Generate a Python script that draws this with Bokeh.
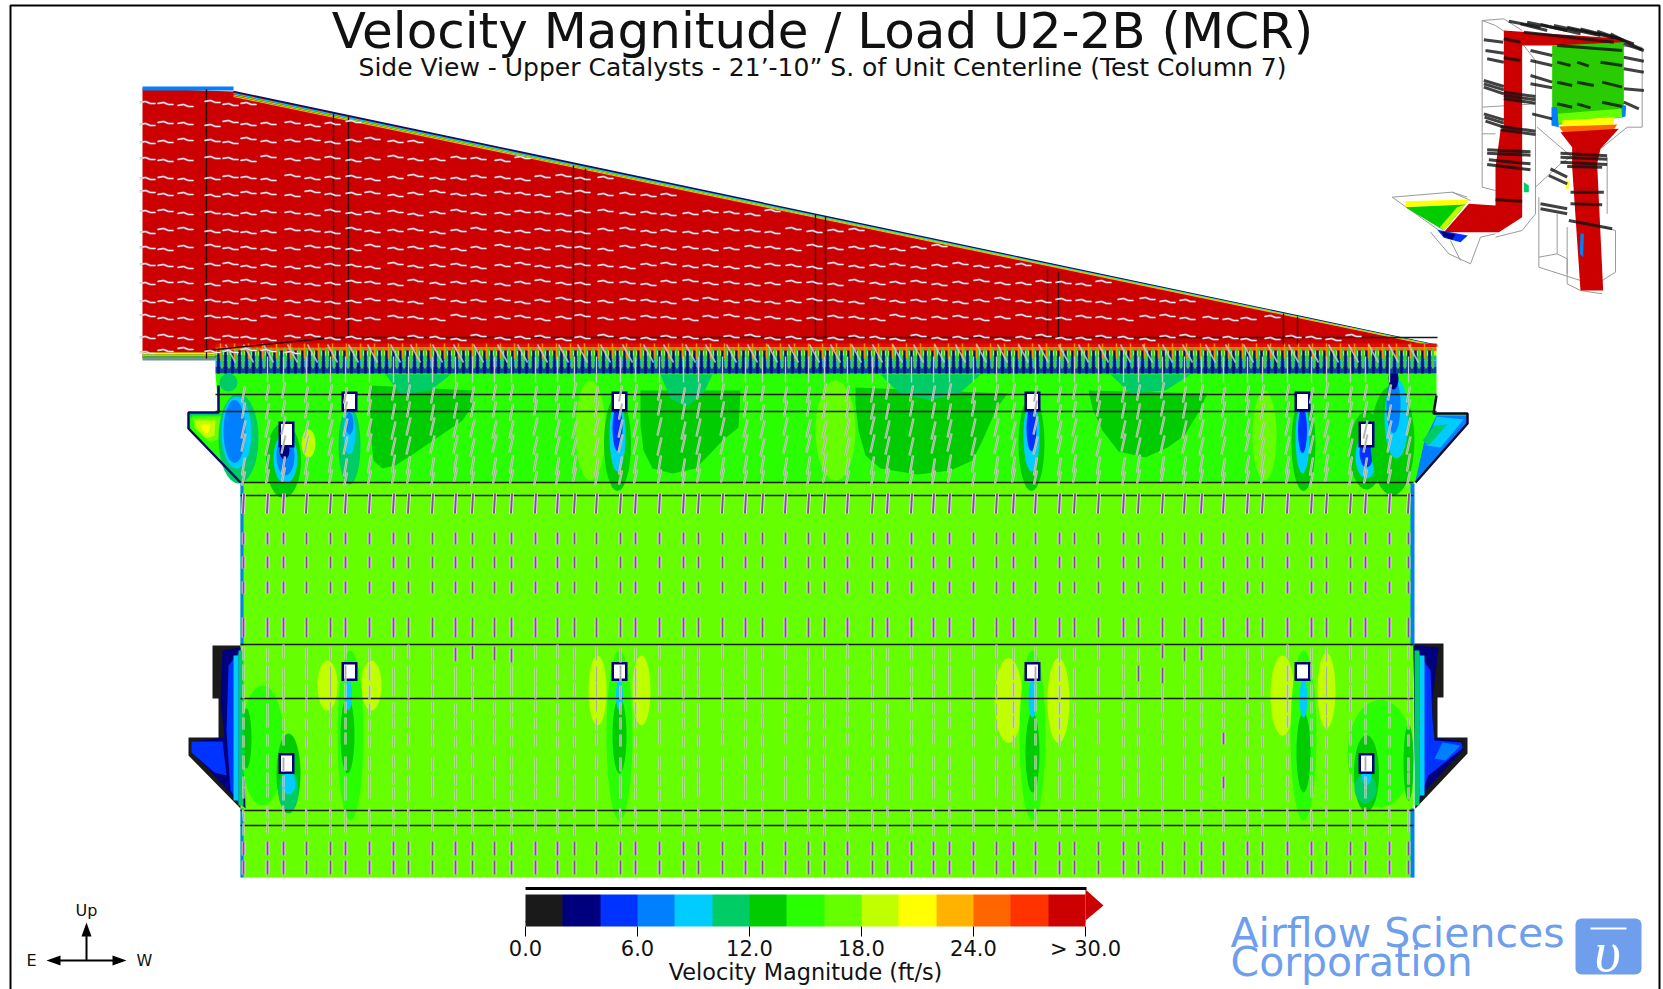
from bokeh.embed import file_html
from bokeh.resources import INLINE
from bokeh.plotting import figure
from bokeh.models import Range1d, ColorBar, LinearColorMapper, FixedTicker, NumeralTickFormatter
from bokeh.core.properties import value

# ---------- text ----------
TITLE = "Velocity Magnitude / Load U2-2B (MCR)"
SUBTITLE = "Side View - Upper Catalysts - 21\u2019-10\u201d S. of Unit Centerline (Test Column 7)"
CB_TITLE = "Velocity Magnitude (ft/s)"

# ---------- velocity levels (ft/s, every 2) ----------
level_colors = ["#1a1a1a", "#00007f", "#0033ff", "#007fff", "#00ccff", "#00cc66", "#00cc00",
                "#29ff00", "#66ff00", "#bfff00", "#ffff00", "#ffb300", "#ff6600", "#ff3300", "#cc0000"]
cb_ticks = [0, 6, 12, 18, 24, 30]

# ---------- duct outlines ----------
duct_x = [142, 233, 1437, 1437, 347, 215, 142]
duct_y = [88, 91, 345, 345, 345, 358, 358]
upper_x = [215, 1436, 1436, 1433, 1467, 1467, 1415, 240, 188, 188, 218]
upper_y = [373, 373, 400, 413, 413, 423, 482, 482, 428, 412, 412]
mid_x = [240, 1413, 1413, 240]
mid_y = [482, 482, 877, 877]
lbulge_x = [240, 212, 212, 218, 218, 188, 188, 240]
lbulge_y = [645, 645, 698, 698, 737, 737, 755, 808]
rbulge_x = [1413, 1443, 1443, 1437, 1437, 1467, 1467, 1415]
rbulge_y = [643, 643, 697, 697, 737, 737, 753, 808]

# (level, xs, ys) contour regions
regions = [
    # upper bulges
    (5, [188, 222, 224, 240], [413, 413, 450, 482]),
    (7, [192, 222, 224, 234, 190], [415, 415, 450, 475, 428]),
    (8, [192, 220, 220, 210, 194], [417, 417, 438, 442, 428]),
    (9, [194, 215, 214, 206, 196], [420, 420, 435, 438, 428]),
    (10, [200, 210, 208, 204], [424, 424, 432, 433]),
    (3, [1436, 1467, 1467, 1415, 1424], [415, 415, 423, 480, 440]),
    (4, [1436, 1463, 1440, 1426], [416, 419, 447, 445]),
    (5, [1434, 1447, 1428, 1422], [425, 424, 445, 440]),
    # large slow zones below the catalyst inlet
    (6, [370, 473, 472, 462, 440, 415, 395, 382, 373, 370],
     [385, 390, 405, 420, 435, 452, 465, 468, 460, 430]),
    (6, [640, 740, 738, 722, 708, 695, 672, 652, 643, 640],
     [390, 390, 427, 440, 455, 468, 473, 468, 450, 425]),
    (6, [855, 1007, 996, 982, 972, 950, 917, 880, 865, 858, 855],
     [387, 393, 408, 440, 460, 470, 474, 468, 455, 430, 403]),
    (6, [1088, 1207, 1198, 1184, 1167, 1145, 1118, 1102, 1092],
     [390, 393, 412, 435, 447, 457, 451, 430, 408]),
    (5, [660, 712, 702, 685, 670], [374, 374, 395, 406, 398]),
    (5, [880, 980, 960, 930, 898], [374, 374, 392, 400, 392]),
    (5, [385, 450, 430, 400], [374, 374, 390, 394]),
    (5, [1110, 1190, 1165, 1130], [374, 374, 390, 393]),
    # lower bulges: wall wake
    (1, [240, 222, 220, 224, 193, 193, 232, 245], [647, 650, 700, 737, 741, 753, 795, 808]),
    (2, [191, 222, 226, 214, 191], [741, 741, 775, 772, 752]),
    (2, [240, 228, 226, 230, 240], [650, 665, 730, 790, 805]),
    (1, [1413, 1438, 1432, 1432, 1462, 1462, 1425, 1415], [645, 647, 700, 737, 741, 750, 790, 808]),
    (2, [1416, 1430, 1432, 1434, 1461, 1462, 1428, 1416], [650, 670, 720, 740, 742, 748, 775, 805]),
    (3, [1442, 1460, 1445, 1434], [742, 745, 760, 758]),
]

# wakes and pockets: centre x, centre y, width, height, level (drawn in this order)
pockets = [
    # upper row
    (590, 430, 30, 100, 8), (835, 430, 40, 100, 8), (1264, 435, 24, 90, 8), (228, 382, 18, 18, 5),
    (238, 438, 40, 90, 5), (236, 432, 30, 72, 4), (234, 431, 22, 63, 3),
    (308, 443, 14, 28, 9),
    (283, 460, 35, 75, 6), (285, 458, 24, 50, 4), (285, 455, 18, 40, 3), (284, 450, 10, 18, 1),
    (349, 445, 22, 78, 5), (349, 432, 12, 44, 4), (349, 423, 8, 22, 3),
    (617, 443, 27, 95, 6), (617, 435, 16, 72, 4), (617, 428, 10, 45, 2),
    (1031, 443, 26, 95, 6), (1031, 435, 16, 72, 4), (1031, 428, 10, 45, 2),
    (1303, 443, 24, 95, 6), (1302, 437, 14, 72, 4), (1302, 430, 9, 45, 2),
    (1366, 450, 34, 78, 6), (1366, 456, 22, 44, 4), (1366, 452, 14, 30, 2),
    (1392, 440, 44, 110, 6), (1396, 418, 24, 80, 4), (1393, 405, 14, 55, 3), (1393, 378, 10, 22, 1),
    # lower row
    (327, 685, 20, 50, 9), (371, 685, 20, 50, 9),
    (597, 690, 18, 70, 9), (641, 690, 18, 70, 9),
    (1008, 700, 28, 85, 9), (1058, 700, 22, 85, 9),
    (1282, 695, 24, 80, 9), (1326, 690, 18, 75, 9),
    (350, 735, 26, 170, 7), (347, 735, 14, 76, 6), (348, 695, 7, 30, 4),
    (619, 735, 26, 170, 7), (619, 735, 14, 76, 6), (619, 695, 7, 30, 4),
    (1032, 735, 26, 170, 7), (1032, 752, 14, 80, 6), (1032, 698, 8, 38, 4),
    (1303, 735, 26, 170, 7), (1303, 752, 14, 80, 6), (1303, 698, 8, 38, 4),
    (262, 745, 44, 120, 7), (246, 738, 10, 60, 6),
    (288, 773, 24, 80, 6), (288, 790, 20, 44, 5), (288, 783, 14, 22, 4),
    (1380, 753, 66, 107, 7), (1408, 762, 10, 77, 6),
    (1366, 773, 25, 77, 6), (1365, 788, 22, 30, 5), (1366, 772, 10, 26, 4),
]
wall_bands = [  # left x, right x, top y, bottom y, level
    (240, 243, 483, 645, 3), (240, 243, 808, 877, 3),
    (1410, 1414, 483, 645, 3), (1410, 1414, 808, 877, 3),
    (233, 238, 655, 800, 4), (238, 243, 650, 805, 5),
    (1414, 1419, 650, 805, 5), (1419, 1424, 655, 795, 4),
]

# tubes: x, y, width, height
tubes = [(349, 401, 11, 15), (619, 401, 11, 15), (1032, 401, 11, 15), (1302, 401, 11, 15),
         (286, 434, 11, 21), (1366, 434, 11, 21),
         (349, 671, 11, 14), (619, 671, 11, 14), (1032, 671, 11, 14), (1302, 671, 11, 14),
         (286, 763, 11, 16), (1366, 763, 11, 16)]

# structural lines
h_lines = [(215, 1436, 394), (215, 1436, 411), (240, 1413, 482), (240, 1413, 495),
           (240, 1413, 644), (240, 1413, 698), (240, 1413, 810), (240, 1413, 825),
           (348, 1437, 337)]
v_lines = [(206, 89, 358), (333, 113, 337), (348, 116, 337), (573, 165, 337), (585, 168, 337),
           (815, 214, 337), (825, 216, 337), (1047, 268, 337), (1058, 271, 337),
           (1283, 313, 344), (1297, 316, 344)]

# ---------- velocity vectors ----------
duct_rows = [103, 123, 140, 158, 177, 193, 212, 230, 247, 265, 282, 300, 317, 337, 350]
duct_cols = [147, 165, 185, 212, 230, 248, 268, 292, 312, 332, 353, 372, 395, 415, 437, 458, 478, 502,
             522, 542, 563, 582, 605, 627, 648, 668, 690, 710, 731, 752, 772, 793, 814, 835, 856, 877,
             897, 918, 939, 960, 981, 1002, 1023, 1043, 1063, 1083, 1103, 1125, 1147, 1167, 1187, 1210,
             1230, 1248, 1272, 1293, 1313, 1333, 1353, 1373, 1393, 1413]
duct_jitter = [1, -1, 0, 2, -2, 1, 0, -1, 2, 0, -2, 1, 1, -1, 0, 2, -1, -2, 1, 0, 2]
body_cols = [243, 267, 283, 306, 330, 345, 369, 393, 408, 432, 455, 472, 494, 511, 535, 557, 574, 596,
             620, 635, 659, 683, 698, 722, 745, 762, 785, 808, 824, 847, 872, 887, 911, 933, 949, 973,
             996, 1013, 1035, 1059, 1074, 1098, 1123, 1138, 1162, 1184, 1201, 1223, 1247, 1262, 1287,
             1311, 1326, 1350, 1365, 1389, 1408]
# y, half length, tilt, purple?
body_rows = [(393, 8, -3, 0), (410, 8, -3, 0), (428, 9, -4, 0), (445, 9, -4, 0), (465, 9, -3, 0),
             (477, 7, -3, 0), (503, 10, -1, 1), (538, 6, 0, 1), (562, 6, 0, 1), (587, 6, 0, 1),
             (627, 10, 0, 1), (653, 7, 0, 0), (673, 8, 0, 0), (690, 7, 0, 0), (707, 6, 0, 0),
             (723, 6, 0, 0), (740, 6, 0, 0), (762, 7, 0, 0), (780, 6, 0, 0), (793, 6, 0, 0),
             (813, 6, 1, 0), (827, 6, 0, 0), (848, 7, 0, 1), (867, 7, 0, 1)]
purple_spots = [(455, 653), (472, 653), (494, 653), (511, 653), (468, 673), (450, 690), (1162, 653),
                (1184, 653), (1201, 653), (1138, 673), (1162, 673), (1223, 740), (1223, 780)]

# ---------- colour bar & compass & logo ----------
arrow_tip = (1085, 889, 1103, 905, 1085, 920)
LOGO_BLUE = "#6f9fec"

# ---------- inset, in the zoomed inset's coordinates ----------
inset_wires = [
    [(305, 60), (370, 55), (425, 90)], [(305, 60), (305, 560)], [(305, 60), (345, 75), (370, 92)],
    [(430, 135), (465, 180), (465, 640), (425, 690), (345, 710)], [(305, 320), (465, 310)],
    [(305, 400), (345, 400)], [(305, 560), (345, 570)],
    [(35, 590), (215, 575), (270, 600)], [(35, 590), (190, 700)], [(150, 695), (205, 760), (270, 790), (300, 710)],
    [(210, 720), (240, 780)], [(215, 575), (260, 590)],
    [(515, 130), (785, 140), (785, 380), (740, 380), (660, 445)], [(470, 380), (540, 440), (575, 470)],
    [(475, 590), (475, 800), (600, 840)], [(475, 770), (530, 760), (560, 775), (560, 820)],
    [(560, 680), (560, 850), (600, 870)], [(670, 680), (705, 690), (705, 815), (665, 840)],
    [(530, 640), (530, 760)], [(465, 560), (540, 490), (570, 470)], [(680, 470), (680, 640)],
    [(300, 710), (345, 700)], [(600, 870), (665, 880)],
]
inset_fills = [
    ("#cc0000", [(370, 90), (730, 115), (730, 135), (425, 135), (425, 650), (355, 695), (190, 695), (265, 610), (345, 615), (345, 500), (360, 390), (370, 380)]),
    ("#29cc00", [(515, 135), (730, 125), (730, 350), (515, 375)]),
    ("#66ff00", [(530, 340), (722, 325), (725, 350), (530, 370)]),
    ("#007fff", [(513, 320), (530, 320), (535, 380), (513, 375)]),
    ("#007fff", [(725, 315), (737, 315), (735, 348), (725, 350)]),
    ("#ffff00", [(545, 360), (700, 350), (700, 372), (545, 378)]),
    ("#ff6600", [(535, 378), (710, 372), (700, 388), (550, 398)]),
    ("#cc0000", [(540, 395), (715, 385), (660, 445), (650, 490), (668, 870), (600, 870), (575, 500), (575, 440)]),
    ("#ffff00", [(75, 602), (265, 597), (255, 612), (75, 620)]),
    ("#00cc00", [(75, 620), (255, 612), (190, 690)]),
    ("#bfff00", [(230, 620), (255, 612), (190, 690), (178, 680)]),
    ("#0033ff", [(170, 688), (262, 705), (240, 725), (190, 712)]),
    ("#00007f", [(180, 692), (225, 702), (215, 718), (190, 708)]),
    ("#007fff", [(600, 700), (610, 700), (608, 770), (598, 760)]),
    ("#ffff00", [(557, 540), (565, 540), (565, 565), (557, 565)]),
    ("#00cc66", [(430, 545), (445, 555), (445, 575), (430, 575)]),
]
inset_streaks = [
    (310, 118, 368, 125), (315, 150, 370, 158), (320, 175, 370, 185), (310, 240, 370, 258), (310, 250, 370, 268),
    (310, 260, 370, 280), (370, 275, 465, 288), (370, 285, 465, 298), (370, 295, 465, 308),
    (310, 340, 370, 358), (312, 350, 370, 368), (315, 362, 370, 380), (360, 378, 465, 392), (360, 388, 465, 402),
    (320, 448, 450, 454), (320, 458, 450, 464), (325, 478, 450, 490), (320, 492, 450, 508), (345, 598, 425, 602),
    (385, 62, 480, 80), (420, 70, 500, 90), (440, 65, 560, 90), (480, 72, 600, 100), (520, 75, 660, 105),
    (560, 80, 700, 112), (600, 85, 720, 115), (650, 92, 760, 130), (690, 100, 785, 148),
    (430, 95, 700, 125), (450, 150, 515, 165), (450, 180, 515, 195), (450, 225, 515, 245), (450, 250, 515, 262),
    (455, 340, 515, 355), (730, 130, 790, 150), (730, 170, 790, 182), (730, 205, 790, 215), (730, 265, 790, 270),
    (730, 305, 775, 325), (530, 185, 570, 195), (590, 185, 625, 197), (660, 185, 725, 195), (530, 245, 575, 255),
    (590, 245, 640, 255), (665, 245, 725, 260), (530, 310, 575, 320), (590, 310, 630, 322), (665, 305, 725, 318),
    (530, 135, 725, 150), (540, 458, 680, 466), (540, 470, 680, 476), (540, 485, 680, 492), (560, 498, 665, 500),
    (570, 575, 670, 575), (570, 610, 665, 613), (565, 660, 695, 685), (480, 610, 560, 625), (480, 625, 560, 640),
    (505, 525, 560, 550), (510, 505, 560, 530), (370, 115, 420, 125), (370, 172, 420, 180),
]


def ix(v):
    return 1380 + v / 3


def iy(v):
    return v / 3


W, H = 1663, 989
p = figure(width=W, height=H, output_backend="svg", toolbar_location=None,
           x_range=Range1d(0, W), y_range=Range1d(H, 0), min_border=0,
           x_axis_location=None, y_axis_location=None, outline_line_color=None,
           background_fill_color="white", border_fill_color="white", margin=(0, 0, 0, 0))
p.grid.visible = False

FONT = value("DejaVu Sans")

# frame
p.line([10, 10, 1659, 1659], [995, 5, 5, 995], line_color="black", line_width=2)

# red duct + edges
p.patch(duct_x, duct_y, fill_color=level_colors[14], line_color=None)
p.quad(left=[142], right=[233], top=[86], bottom=[90], fill_color="#007fff", line_color=None)
p.quad(left=[142, 142, 142, 142], right=[215, 215, 215, 215], top=[352, 354, 356, 358],
       bottom=[354, 356, 358, 360], fill_color=["#ffff00", "#66ff00", "#00cc66", "#6f8f9f"], line_color=None)
for off, col, w in [(0, "#101060", 1.6), (2, "#00ccff", 1.2), (3.5, "#66ff00", 1.2), (5, "#ffb300", 1.2)]:
    p.line([233, 1437], [91 + off, 345 + off * 0.2], line_color=col, line_width=w)

# lower body
p.patch(mid_x, mid_y, fill_color=level_colors[8], line_color=None)
p.patch(upper_x, upper_y, fill_color=level_colors[7], line_color=None)
p.patch(lbulge_x, lbulge_y, fill_color=level_colors[0], line_color=None)
p.patch(rbulge_x, rbulge_y, fill_color=level_colors[0], line_color=None)

p.patches([r[1] for r in regions], [r[2] for r in regions],
          fill_color=[level_colors[r[0]] for r in regions], line_color=None)
p.ellipse(x=[c[0] for c in pockets], y=[c[1] for c in pockets], width=[c[2] for c in pockets],
          height=[c[3] for c in pockets], fill_color=[level_colors[c[4]] for c in pockets], line_color=None)
p.quad(left=[b[0] for b in wall_bands], right=[b[1] for b in wall_bands], top=[b[2] for b in wall_bands],
       bottom=[b[3] for b in wall_bands], fill_color=[level_colors[b[4]] for b in wall_bands], line_color=None)
p.line([218, 218, 188, 188, 240], [385, 412, 412, 428, 482], line_color="#0a0a70", line_width=2.5)
p.line([1436, 1433, 1467, 1467, 1415], [395, 413, 413, 423, 482], line_color="#0a0a30", line_width=2.5)

# inlet comb
comb_layers = [(343, 347, "#e01000"), (347, 351, "#ff6600"), (351, 355, "#bfff00"), (355, 360, "#00cc66"),
               (360, 366, "#1a8fe0"), (366, 373, "#0c3fa0")]
p.quad(left=[215] * 6, right=[1436] * 6, top=[c[0] for c in comb_layers], bottom=[c[1] for c in comb_layers],
       fill_color=[c[2] for c in comb_layers], line_color=None)
comb_x = list(range(218, 1436, 7))
p.segment(comb_x, [350] * len(comb_x), comb_x, [373] * len(comb_x), line_color="#00107f", line_width=2.6)
cx2 = [x + 3.5 for x in comb_x]
p.segment(cx2, [347] * len(cx2), cx2, [368] * len(cx2), line_color="#39d030", line_width=2.2)
cx3 = [x + 2 for x in comb_x[::2]]
p.segment(cx3, [343] * len(cx3), cx3, [358] * len(cx3), line_color="#ff8a00", line_width=1.5)
cols_comb = [c for c in duct_cols if c > 225]
p.segment([c - 5 for c in cols_comb], [344] * len(cols_comb), [c + 5 for c in cols_comb], [362] * len(cols_comb),
          line_color="#c8c8d0", line_width=1.6, line_alpha=0.85)
p.segment(body_cols[1:], [356] * (len(body_cols) - 1), body_cols[1:], [382] * (len(body_cols) - 1),
          line_color="#c8c8c8", line_width=1.4)

# structure lines
p.segment([h[0] for h in h_lines], [h[2] for h in h_lines], [h[1] for h in h_lines], [h[2] for h in h_lines],
          line_color="#1a1a1a", line_width=1.3)
p.segment([v[0] for v in v_lines], [v[1] for v in v_lines], [v[0] for v in v_lines], [v[2] for v in v_lines],
          line_color="#2a0000", line_width=1.3)
p.line([206, 333, 348], [350, 337, 337], line_color="#2a0000", line_width=1.3)

# tubes
p.rect([t[0] for t in tubes], [t[1] for t in tubes], [t[2] + 5 for t in tubes], [t[3] + 5 for t in tubes],
       fill_color=level_colors[1], line_color=None)
p.rect([t[0] for t in tubes], [t[1] for t in tubes], [t[2] for t in tubes], [t[3] for t in tubes],
       fill_color="white", line_color=None)

# duct vectors (slightly kinked, as in the reference)
dxs, dys = [], []
k = 0
for r in duct_rows:
    for c in duct_cols:
        k += 1
        top = 91 + (c - 233) * (345 - 91) / (1437 - 233) if c > 233 else 88
        if r < top + 6 or (r > 345 and c > 300):
            continue
        j = duct_jitter[k % len(duct_jitter)]
        dxs.append([c - 8, c - 2, c + 3, c + 8])
        dys.append([r + j, r + j - 1, r + j + 1, r + j + 1])
p.multi_line(dxs, dys, line_color="#b9a9c0", line_width=2.2, line_alpha=0.9)
p.multi_line(dxs, dys, line_color="#f2f2f2", line_width=1.0)

# body vectors
gx0, gy0, gx1, gy1, ux0, uy0, ux1, uy1 = [], [], [], [], [], [], [], []
for y, hl, tilt, purple in body_rows:
    for i, c in enumerate(body_cols):
        jit = duct_jitter[(i + y) % len(duct_jitter)]
        yy = y + (jit if y < 500 or 640 < y < 830 else 0)
        if y < 500 and i % 2 == 0:
            yy -= 1
        if purple or (c, y) in purple_spots:
            ux0.append(c - tilt / 2); uy0.append(yy - hl); ux1.append(c + tilt / 2); uy1.append(yy + hl)
        else:
            gx0.append(c - tilt / 2); gy0.append(yy - hl); gx1.append(c + tilt / 2); gy1.append(yy + hl)
p.segment(gx0, gy0, gx1, gy1, line_color="#cfd0c8", line_width=2.4, line_alpha=0.95)
p.segment(gx0, gy0, gx1, gy1, line_color="#a8a8a0", line_width=0.9)
p.segment(ux0, uy0, ux1, uy1, line_color="#efefef", line_width=3.6)
p.segment(ux0, uy0, ux1, uy1, line_color="#8a45a5", line_width=2.0)

# titles
p.text([822], [30], text=[TITLE], text_font=FONT, text_font_size="50px", text_align="center",
       text_baseline="alphabetic", text_color="#111111")
p.text([822], [67], text=[SUBTITLE], text_font=FONT, text_font_size="25px", text_align="center",
       text_baseline="alphabetic", text_color="#111111")

# inset
p.multi_line([[ix(a) for a, b in w] for w in inset_wires], [[iy(b) for a, b in w] for w in inset_wires],
             line_color="#9a9a9a", line_width=1)
p.patches([[ix(a) for a, b in f[1]] for f in inset_fills], [[iy(b) for a, b in f[1]] for f in inset_fills],
          fill_color=[f[0] for f in inset_fills], line_color=None)
p.segment([ix(s[0]) for s in inset_streaks], [iy(s[1]) for s in inset_streaks], [ix(s[2]) for s in inset_streaks],
          [iy(s[3]) for s in inset_streaks], line_color="#111111", line_width=3, line_alpha=0.8)

# colour bar
mapper = LinearColorMapper(palette=level_colors, low=0, high=30)
cb = ColorBar(color_mapper=mapper, ticker=FixedTicker(ticks=cb_ticks), major_label_overrides={30: "> 30.0"},
              orientation="horizontal", width=560, height=32, padding=0, margin=0,
              location=(525, 26), major_tick_out=10, major_tick_in=0,
              major_tick_line_color="black", major_label_text_font="DejaVu Sans",
              major_label_text_font_size="21px", major_label_text_color="#111111", label_standoff=0,
              bar_line_color=None, background_fill_color=None, border_line_color=None, minor_tick_line_color=None)
cb.formatter = NumeralTickFormatter(format="0.0")
p.add_layout(cb)
p.patch([arrow_tip[0], arrow_tip[2], arrow_tip[4]], [arrow_tip[1], arrow_tip[3], arrow_tip[5]],
        fill_color=level_colors[14], line_color=None)
p.line([525, 1086], [888, 888], line_color="black", line_width=3)
p.line([525, 1085], [921, 921], line_color="black", line_width=1.5)
p.text([805], [971], text=[CB_TITLE], text_font=FONT, text_font_size="22.4px", text_align="center",
       text_baseline="middle", text_color="#111111")

# compass
p.segment([86, 56], [928, 960], [86, 116], [960, 960], line_color="black", line_width=2)
p.patches([[86, 81, 91], [46, 60, 60], [126, 112, 112]], [[922, 936, 936], [960, 955, 965], [960, 955, 965]],
          fill_color="black", line_color=None)
p.text([86, 31, 144], [910, 960, 960], text=["Up", "E", "W"], text_font=FONT, text_font_size="16px",
       text_align="center", text_baseline="middle", text_color="#111111")

# logo
p.text([1230, 1230], [932, 961], text=["Airflow Sciences", "Corporation"], text_font=FONT, text_font_size="41px",
       text_baseline="middle", text_color=LOGO_BLUE)
p.quad(left=[1575], right=[1641], top=[918], bottom=[974], fill_color=LOGO_BLUE, line_color=None, border_radius=6)
p.text([1607], [951], text=["\u03c5"], text_font=value("Liberation Serif"), text_font_size="58px",
       text_font_style="italic", text_align="center", text_baseline="middle", text_color="white")
p.segment([1590], [928], [1626], [928], line_color="white", line_width=2)

open("out.html", "w").write(file_html(p, INLINE))
